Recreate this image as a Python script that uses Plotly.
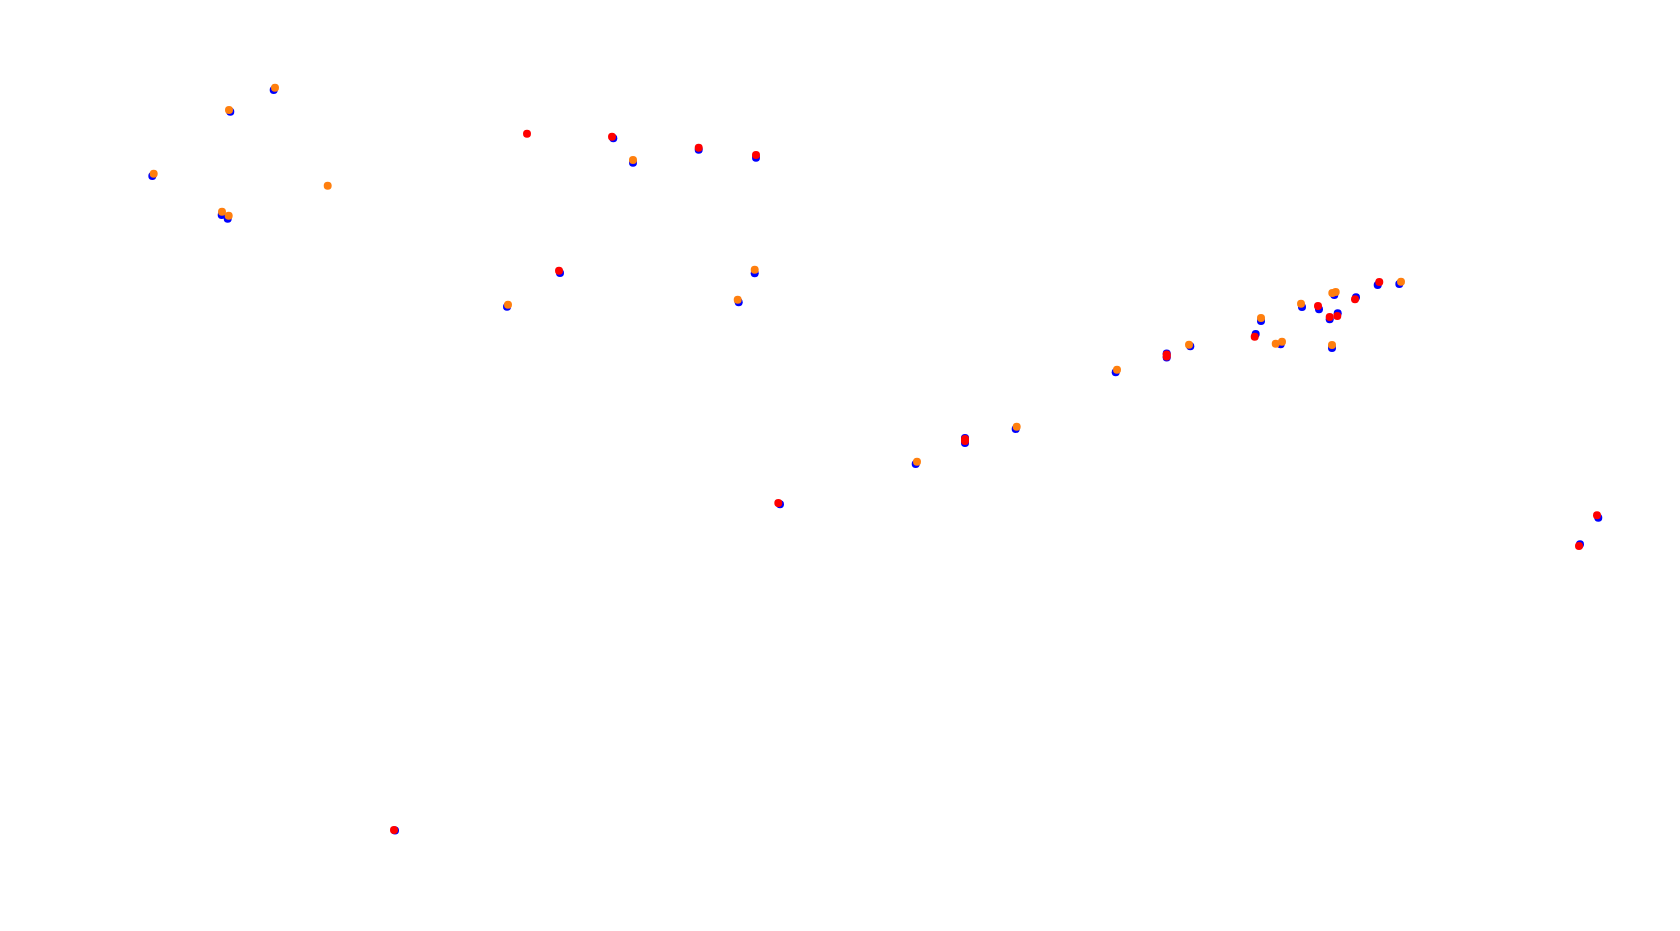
import plotly.graph_objects as go

# Track-map points (x, y in map units)
blue_x = [273.7, 230.3, 152.3, 221.7, 227.7, 613.3, 633.0, 698.7, 756.0, 560.0, 507.0, 754.7, 738.7,
          915.7, 965.0, 965.0, 1015.7, 1115.7, 1166.7, 1166.7, 1190.3, 1255.7, 1261.0, 1280.7, 1302.0,
          1319.0, 1329.7, 1337.7, 1332.0, 1334.3, 1356.0, 1377.7, 1399.3, 1598.3, 1580.0, 395.0, 780.0]
blue_y = [841.0, 819.3, 755.0, 716.0, 712.3, 792.7, 768.3, 781.3, 773.3, 658.0, 624.3, 657.7, 628.7,
          467.0, 493.0, 488.0, 502.0, 558.7, 577.5, 573.5, 584.7, 597.0, 610.0, 586.7, 624.0,
          621.7, 611.7, 617.7, 583.0, 636.0, 633.7, 646.0, 647.0, 413.3, 386.7, 100.5, 426.7]

orange_x = [275.0, 229.0, 153.7, 327.7, 222.0, 228.7, 633.0, 508.0, 754.7, 737.7, 917.0, 1016.7,
            1117.0, 1189.0, 1261.0, 1275.7, 1282.0, 1301.0, 1332.0, 1335.7, 1332.3, 1401.0]
orange_y = [843.3, 821.0, 757.3, 745.3, 719.3, 715.3, 771.0, 626.3, 661.3, 631.3, 469.3, 504.3,
            561.3, 586.3, 613.0, 587.3, 589.3, 627.3, 586.0, 639.0, 638.0, 649.3]

red_x = [527.0, 612.0, 698.7, 756.0, 559.0, 965.0, 965.0, 778.3, 1166.7, 1166.7, 1254.7, 1318.0,
         1329.7, 1337.3, 1355.0, 1379.3, 1597.0, 1579.0, 394.0]
red_y = [797.3, 794.3, 783.3, 776.0, 660.3, 492.0, 490.0, 428.0, 576.5, 574.5, 594.3, 625.0,
         614.0, 615.0, 631.7, 649.0, 415.7, 385.0, 101.0]

fig = go.Figure()
fig.add_trace(go.Scatter(x=blue_x, y=blue_y, mode="markers",
                         marker=dict(color="blue", size=8), name="blue", hoverinfo="skip"))
fig.add_trace(go.Scatter(x=orange_x, y=orange_y, mode="markers",
                         marker=dict(color="#ff7f0e", size=8), name="orange", hoverinfo="skip"))
fig.add_trace(go.Scatter(x=red_x, y=red_y, mode="markers",
                         marker=dict(color="red", size=8), name="red", hoverinfo="skip"))

fig.update_layout(
    showlegend=False,
    margin=dict(l=0, r=0, t=0, b=0),
    plot_bgcolor="white",
    paper_bgcolor="white",
    xaxis=dict(range=[8, 1672], visible=False, showgrid=False, zeroline=False),
    yaxis=dict(range=[8, 923], visible=False, showgrid=False, zeroline=False),
)

fig.write_html("out.html")
